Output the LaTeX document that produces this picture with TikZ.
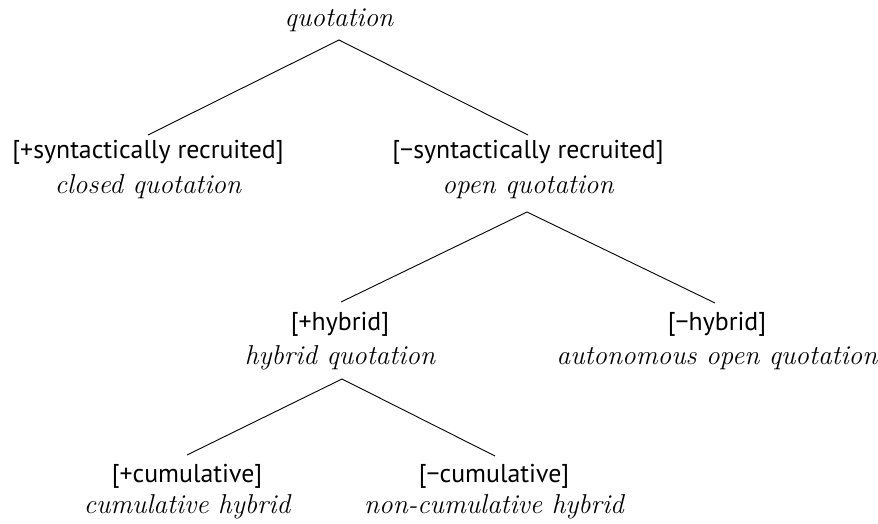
\documentclass[tikz,border=0pt]{standalone}
\usepackage{fontspec}
\setsansfont{PT Sans}
\begin{document}
\begin{tikzpicture}[x=1pt,y=-1pt,
  feat/.style={anchor=base, inner sep=0pt, font=\sffamily\fontsize{25.8}{30}\selectfont},
  term/.style={anchor=base, inner sep=0pt, font=\itshape\fontsize{27.3}{32}\selectfont},
  branch/.style={draw=black, line width=0.9pt}]
\useasboundingbox (0,0) rectangle (878,524);
% nodes
\node[term] (root) at (339,27) {quotation};
\node[feat] (a1) at (148,159) {[+syntactically recruited]};
\node[term] (a2) at (148,193) {closed quotation};
\node[feat] (b1) at (528,159) {[\textminus syntactically recruited]};
\node[term] (b2) at (528,193) {open quotation};
\node[feat] (c1) at (340,330) {[+hybrid]};
\node[term] (c2) at (340,364) {hybrid quotation};
\node[feat] (d1) at (717,330) {[\textminus hybrid]};
\node[term] (d2) at (717,364) {autonomous open quotation};
\node[feat] (e1) at (187,482) {[+cumulative]};
\node[term] (e2) at (187,513) {cumulative hybrid};
\node[feat] (f1) at (494,482) {[\textminus cumulative]};
\node[term] (f2) at (494,513) {non-cumulative hybrid};
% attachment points
\coordinate (rootB) at (339,40);
\coordinate (a1T) at (148,135);
\coordinate (b1T) at (528,135);
\coordinate (b2B) at (527,212);
\coordinate (c1T) at (341,302);
\coordinate (d1T) at (715,303);
\coordinate (c2B) at (342,379);
\coordinate (e1T) at (187,455);
\coordinate (f1T) at (495,456);
% branches
\draw[branch] (a1T) -- (rootB) -- (b1T);
\draw[branch] (c1T) -- (b2B) -- (d1T);
\draw[branch] (e1T) -- (c2B) -- (f1T);
\end{tikzpicture}
\end{document}
